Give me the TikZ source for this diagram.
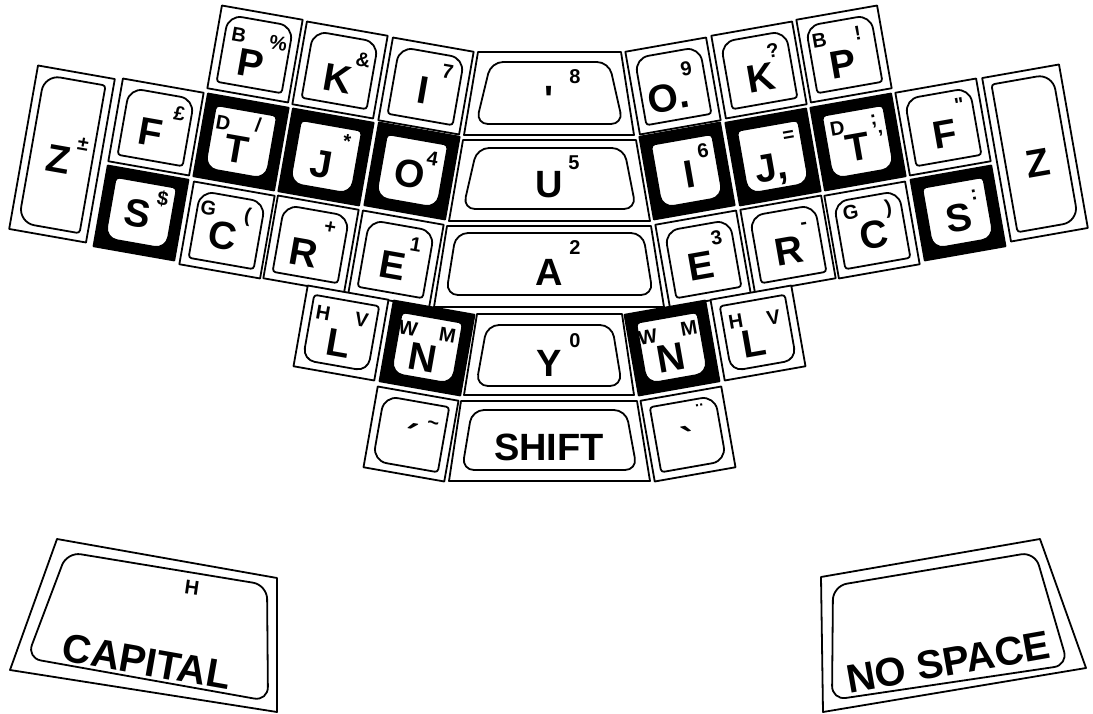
\documentclass[tikz,border=0pt]{standalone}
\usepackage{fontspec}
\setmainfont{Liberation Sans}[Ligatures=TeXOff]
\tikzset{
  keyline/.style={line width=1.8pt, line join=round},
  big/.style={font=\fontsize{39}{39}\selectfont\bfseries, inner sep=0pt, text height=28pt, text depth=0pt, transform shape},
  sm/.style={font=\fontsize{20}{20}\selectfont\bfseries, inner sep=0pt, text height=14pt, text depth=0pt, transform shape},
  lbl/.style={font=\fontsize{38}{38}\selectfont\bfseries, inner sep=0pt, text height=27pt, text depth=0pt},
  thumb/.style={font=\fontsize{40}{40}\selectfont\bfseries, inner sep=0pt, text height=29pt, text depth=0pt}
}
% #1 w, #2 h, #3 fill, #4 inset, #5 rTL, #6 rTR, #7 rBR, #8 rBL
\newcommand\kbox[8]{%
  \pgfmathsetmacro\ox{#1/2-2}%
  \pgfmathsetmacro\oy{#2/2-2}%
  \pgfmathsetmacro\ix{#1/2-2-#4}%
  \pgfmathsetmacro\iy{#2/2-2-#4}%
  \draw[keyline,fill=#3] (-\ox,-\oy) rectangle (\ox,\oy);
  \draw[keyline,fill=white] (0,-\iy) -- ({\ix-#6},-\iy)
    .. controls ({\ix-0.45*#6},-\iy) and (\ix,{-\iy+0.45*#6}) .. (\ix,{-\iy+#6})
    -- (\ix,{\iy-#7})
    .. controls (\ix,{\iy-0.45*#7}) and ({\ix-0.45*#7},\iy) .. ({\ix-#7},\iy)
    -- ({-\ix+#8},\iy)
    .. controls ({-\ix+0.45*#8},\iy) and (-\ix,{\iy-0.45*#8}) .. (-\ix,{\iy-#8})
    -- (-\ix,{-\iy+#5})
    .. controls (-\ix,{-\iy+0.45*#5}) and ({-\ix+0.45*#5},-\iy) .. ({-\ix+#5},-\iy)
    -- cycle;
}
\newcommand\wk[6]{\kbox{#1}{#2}{white}{8}{#3}{#4}{#5}{#6}}
\newcommand\bk[6]{\kbox{#1}{#2}{black}{10}{#3}{#4}{#5}{#6}}
\newcommand\keyat[4]{\begin{scope}[shift={(#1,#2)},rotate=#3]#4\end{scope}}
\begin{document}
\begin{tikzpicture}[x=1pt,y=-1pt]
\useasboundingbox (0,0) rectangle (1093,714);
\fill[white] (0,0) rectangle (1093,714);
% ---------- left half ----------
\keyat{62}{154}{-10}{\wk{82}{170}{16}{3}{3}{16}
  \node[big] (zL) at (-3,5) {Z}; \node[sm] (zLs) at (19,-14) {±};}
\keyat{156}{127}{-10}{\wk{86}{88}{14}{14}{3}{3}
  \node[big] (fL) at (-4,6) {F}; \node[sm] (fLs) at (21,-17) {£};}
\keyat{141}{213}{-10}{\bk{86}{86}{4}{4}{12}{12}
  \node[big] (sL) at (-3,1) {S}; \node[sm] (sLs) at (19,-18) {\$};}
\keyat{255}{54}{-10}{\wk{86}{88}{14}{14}{3}{3}
  \node[big] (pL) at (-3,10) {P}; \node[sm] (pLb) at (-19,-16) {B}; \node[sm] (pLs) at (21,-15) {\%};}
\keyat{241}{142}{-10}{\bk{86}{88}{4}{4}{12}{12}
  \node[big] (tL) at (-3,7) {T}; \node[sm] (tLd) at (-21,-16) {D}; \node[sm] (tLs) at (14,-20) {/};}
\keyat{227}{230}{-10}{\wk{86}{88}{14}{14}{3}{3}
  \node[big] (cL) at (-3,6) {C}; \node[sm] (cLg) at (-22,-18) {G}; \node[sm] (cLs) at (18,-18) {(};}
\keyat{340}{70}{-10}{\wk{86}{88}{14}{14}{3}{3}
  \node[big] (kL) at (-1,8) {K}; \node[sm] (kLs) at (21,-14) {\&};}
\keyat{326}{157}{-10}{\bk{86}{88}{4}{4}{12}{12}
  \node[big] (jL) at (-3,7) {J}; \node[sm] (jLs) at (18,-19) {*};}
\keyat{311}{244}{-10}{\wk{86}{88}{14}{14}{3}{3}
  \node[big] (rL) at (-6,9) {R}; \node[sm] (rLs) at (16,-20) {+};}
\keyat{426}{86}{-10}{\wk{86}{88}{14}{14}{3}{3}
  \node[big] (iL) at (-2,4) {I}; \node[sm] (iLs) at (19,-18) {7};}
\keyat{412}{171}{-10}{\bk{86}{88}{4}{4}{12}{12}
  \node[big] (oL) at (-2,3) {O}; \node[sm] (oLs) at (18,-16) {4};}
\keyat{396}{259}{-10}{\wk{86}{88}{14}{14}{3}{3}
  \node[big] (eL) at (-2,6) {E}; \node[sm] (eLs) at (17,-18) {1};}
\keyat{341}{333}{-10}{\wk{86}{86}{3}{3}{12}{12}
  \node[big] (lL) at (-1,10) {L}; \node[sm] (lLh) at (-21,-17) {H}; \node[sm] (lLv) at (18,-17) {V};}
\keyat{427}{348}{-10}{\bk{86}{86}{4}{4}{12}{12}
  \node[big] (nL) at (-2,10) {N}; \node[sm] (nLw) at (-22,-16) {W}; \node[sm] (nLm) at (18,-16) {M};}
\keyat{411}{434}{-10}{\wk{86}{86}{14}{3}{3}{14}
  \node[big] (gL) at (1,4) {´}; \node[sm] (gLs) at (20,-15) {\textasciitilde};}
% ---------- right half ----------
\keyat{1035}{153}{10}{\wk{82}{170}{3}{16}{16}{3}
  \node[big] (zR) at (1,10) {Z};}
\keyat{943}{127}{10}{\wk{86}{88}{14}{14}{3}{3}
  \node[big] (fR) at (1,7) {F}; \node[sm] (fRs) at (20,-19) {"};}
\keyat{958}{213}{10}{\bk{86}{86}{4}{4}{12}{12}
  \node[big] (sR) at (0,5) {S}; \node[sm] (sRs) at (19,-17) {:};}
\keyat{844}{54}{10}{\wk{86}{88}{14}{14}{3}{3}
  \node[big] (pR) at (-3,9) {P}; \node[sm] (pRb) at (-22,-18) {B}; \node[sm] (pRs) at (17,-18) {!};}
\keyat{858}{142}{10}{\bk{86}{88}{4}{4}{12}{12}
  \node[big] (tR) at (-1,5) {T}; \node[sm] (tRd) at (-18,-17) {D}; \node[sm] (tRs) at (19,-21) {;};
  \node[sm] (tRc) at (24,-1) {’};}
\keyat{872}{230}{10}{\wk{86}{88}{14}{14}{3}{3}
  \node[big] (cR) at (1,5) {C}; \node[sm] (cRg) at (-18,-21) {G}; \node[sm] (cRs) at (20,-20) {)};}
\keyat{759}{70}{10}{\wk{86}{88}{14}{14}{3}{3}
  \node[big] (kR) at (1,8) {K}; \node[sm] (kRs) at (17,-17) {?};}
\keyat{773}{157}{10}{\bk{86}{88}{4}{4}{12}{12}
  \node[big] (jR) at (-4,9) {J,}; \node[sm] (jRs) at (19,-19) {=};}
\keyat{788}{244}{10}{\wk{86}{88}{14}{14}{3}{3}
  \node[big] (rR) at (0,6) {R}; \node[sm] (rRs) at (19,-19) {-};}
\keyat{673}{86}{10}{\wk{86}{88}{14}{14}{3}{3}
  \node[big] (oR) at (-6,10) {O.}; \node[sm] (oRs) at (16,-15) {9};}
\keyat{687}{171}{10}{\bk{86}{88}{4}{4}{12}{12}
  \node[big] (iR) at (2,3) {I}; \node[sm] (iRs) at (19,-17) {6};}
\keyat{703}{259}{10}{\wk{86}{88}{14}{14}{3}{3}
  \node[big] (eR) at (-3,6) {E}; \node[sm] (eRs) at (17,-19) {3};}
\keyat{758}{333}{10}{\wk{86}{86}{3}{3}{12}{12}
  \node[big] (lR) at (-6,9) {L}; \node[sm] (lRh) at (-20,-15) {H}; \node[sm] (lRv) at (18,-13) {V};}
\keyat{672}{348}{10}{\bk{86}{86}{4}{4}{12}{12}
  \node[big] (nR) at (-3,9) {N}; \node[sm] (nRw) at (-22,-15) {W}; \node[sm] (nRm) at (20,-17) {M};}
\keyat{688}{434}{10}{\wk{86}{86}{3}{14}{14}{3}
  \node[big] (gR) at (-1,7) {`}; \node[sm] (gRs) at (16,-20) {¨};}
% ---------- centre column ----------
\draw[keyline] (478,52) -- (621,52) -- (634,135) -- (464,135) -- cycle;
\draw[keyline,rounded corners=12pt] (491,62) -- (609,62) -- (623,124) -- (476,124) -- cycle;
\node[lbl] (apo) at (549,99) {'};
\node[sm] (apos) at (575,77) {8};
\draw[keyline] (463,140) -- (636,140) -- (650,221) -- (449,221) -- cycle;
\draw[keyline,rounded corners=12pt] (477,148) -- (624,148) -- (636,209) -- (463,209) -- cycle;
\node[lbl] (u) at (549,184) {U};
\node[sm] (us) at (574,163) {5};
\draw[keyline] (447,226) -- (651,226) -- (664,307) -- (434,307) -- cycle;
\draw[keyline,rounded corners=12pt] (456,233) -- (643,233) -- (653,295) -- (446,295) -- cycle;
\node[lbl] (a) at (549,272) {A};
\node[sm] (as) at (575,248) {2};
\draw[keyline] (477,314) -- (622,314) -- (634,395) -- (464,395) -- cycle;
\draw[keyline,rounded corners=12pt] (487,325) -- (612,325) -- (622,386) -- (476,386) -- cycle;
\node[lbl] (y) at (549,363) {Y};
\node[sm] (ys) at (575,340) {0};
\draw[keyline] (461,401) -- (637,401) -- (650,481) -- (449,481) -- cycle;
\draw[keyline,rounded corners=12pt] (472,410) -- (626,410) -- (637,470) -- (462,470) -- cycle;
\node[lbl] (shift) at (549,447) {SHIFT};
% ---------- thumb keys ----------
\draw[keyline] (57,539) -- (277,578) -- (277,712) -- (10,670) -- cycle;
\draw[keyline,rounded corners=14pt] (67,552) -- (267,585) -- (268,701) -- (27,658) -- cycle;
\node[thumb,rotate=-10] (capital) at (147,661) {CAPITAL};
\node[sm,rotate=-8] (caph) at (192,588) {H};
\draw[keyline] (821,577) -- (1040,539) -- (1086,668) -- (823,712) -- cycle;
\draw[keyline,rounded corners=14pt] (833,586) -- (1035,552) -- (1068,665) -- (832,700) -- cycle;
\node[thumb,rotate=10] (nospace) at (948,661) {NO SPACE};
\end{tikzpicture}
\end{document}
